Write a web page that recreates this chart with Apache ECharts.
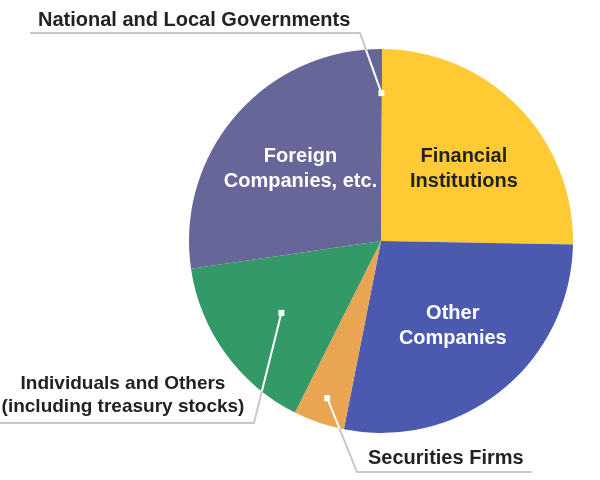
<!DOCTYPE html>
<html>
<head>
<meta charset="utf-8">
<script src="https://cdn.jsdelivr.net/npm/echarts@6/dist/echarts.min.js"></script>
<style>
html, body { margin: 0; padding: 0; background: #fff; }
#main { width: 600px; height: 480px; }
</style>
</head>
<body>
<div id="main"></div>
<script>
// shareholder categories, clockwise from 12 o'clock
var categories = [
    'National and Local Governments',
    'Financial\nInstitutions',
    'Other\nCompanies',
    'Securities Firms',
    'Individuals and Others\n(including treasury stocks)',
    'Foreign\nCompanies, etc.'
];
// share of total (%)
var shares = [0.1, 25.2, 27.8, 4.3, 15.3, 27.3];
var colors = ['#6a6a9a', '#ffca33', '#4b5aae', '#e9a552', '#339966', '#666699'];
var insideLabel = [false, true, true, false, false, true];
var labelColors = ['#222', '#222', '#fff', '#222', '#222', '#fff'];
var labelOffsets = [[0, 0], [1, 8], [0, -4], [0, 0], [0, 0], [6, 3]];

// where the outer labels sit and how their leader lines run
var outerLabels = {
    0: { x: 38, y: 20, align: 'left', size: 20, f: 0.77, elbow: [360, 33], end: [30, 33] },
    3: { x: 368, y: 458, align: 'left', size: 20, f: 0.865, elbow: [357, 472], end: [532, 472] },
    4: { x: 123, y: 395, align: 'center', size: 19, f: 0.64, elbow: [254, 423], end: [0, 423] }
};

var CX = 381, CY = 241, R = 192;
var font = { fontFamily: '"Liberation Sans", Arial, sans-serif', fontWeight: 'bold', fontSize: 20 };

var mainData = categories.map(function (name, i) {
    var o = outerLabels[i];
    return {
        name: name,
        value: shares[i],
        itemStyle: { color: colors[i] },
        label: { show: !insideLabel[i], fontSize: o ? o.size : 20 }
    };
});
var overlayData = categories.map(function (name, i) {
    return {
        name: name,
        value: shares[i],
        label: { show: insideLabel[i], color: labelColors[i], offset: labelOffsets[i] }
    };
});

var chart = echarts.init(document.getElementById('main'));
chart.setOption({
    animation: false,
    series: [{
        type: 'pie',
        z: 5,
        center: [CX, CY],
        radius: R,
        startAngle: 90,
        clockwise: true,
        silent: true,
        avoidLabelOverlap: false,
        itemStyle: { borderWidth: 0 },
        label: Object.assign({
            show: false,
            position: 'outside',
            formatter: '{b}',
            color: '#222',
            lineHeight: 23,
            textBorderWidth: 0
        }, font),
        labelLine: { show: false },
        labelLayout: function (p) {
            var o = outerLabels[p.dataIndex];
            if (!o) return {};
            return { x: o.x, y: o.y, align: o.align, verticalAlign: 'middle' };
        },
        data: mainData
    }, {
        // transparent copy, only used to place the inner labels a bit further out
        type: 'pie',
        z: 6,
        center: [CX, CY],
        radius: R * 1.16,
        startAngle: 90,
        clockwise: true,
        silent: true,
        avoidLabelOverlap: false,
        itemStyle: { color: 'rgba(0,0,0,0)', borderWidth: 0 },
        label: Object.assign({
            show: false,
            position: 'inside',
            formatter: '{b}',
            lineHeight: 25,
            textBorderWidth: 0
        }, font),
        labelLine: { show: false },
        data: overlayData
    }]
});

// leader lines, anchored on the slices the library laid out
var pieData = chart.getModel().getSeriesByIndex(0).getData();
var graphics = [];
Object.keys(outerLabels).forEach(function (k) {
    var o = outerLabels[k];
    var lay = pieData.getItemLayout(+k);
    var mid = (lay.startAngle + lay.endAngle) / 2;
    var px = lay.cx + lay.r * o.f * Math.cos(mid);
    var py = lay.cy + lay.r * o.f * Math.sin(mid);
    // where the first segment leaves the pie
    var dx = o.elbow[0] - px, dy = o.elbow[1] - py;
    var fx = px - lay.cx, fy = py - lay.cy;
    var a = dx * dx + dy * dy, b = 2 * (fx * dx + fy * dy), c = fx * fx + fy * fy - lay.r * lay.r;
    var t = (-b + Math.sqrt(b * b - 4 * a * c)) / (2 * a);
    var qx = px + t * dx, qy = py + t * dy;
    graphics.push({
        type: 'polyline', z: 1, silent: true,
        shape: { points: [[px, py], o.elbow, o.end] },
        style: { stroke: '#c8c8c8', lineWidth: 2, fill: null }
    });
    graphics.push({
        type: 'polyline', z: 20, silent: true,
        shape: { points: [[px, py], [qx, qy]] },
        style: { stroke: '#fff', lineWidth: 2, fill: null }
    });
    graphics.push({
        type: 'rect', z: 21, silent: true,
        shape: { x: px - 3, y: py - 3, width: 6, height: 6 },
        style: { fill: '#fff' }
    });
});
chart.setOption({ graphic: graphics });
</script>
</body>
</html>
